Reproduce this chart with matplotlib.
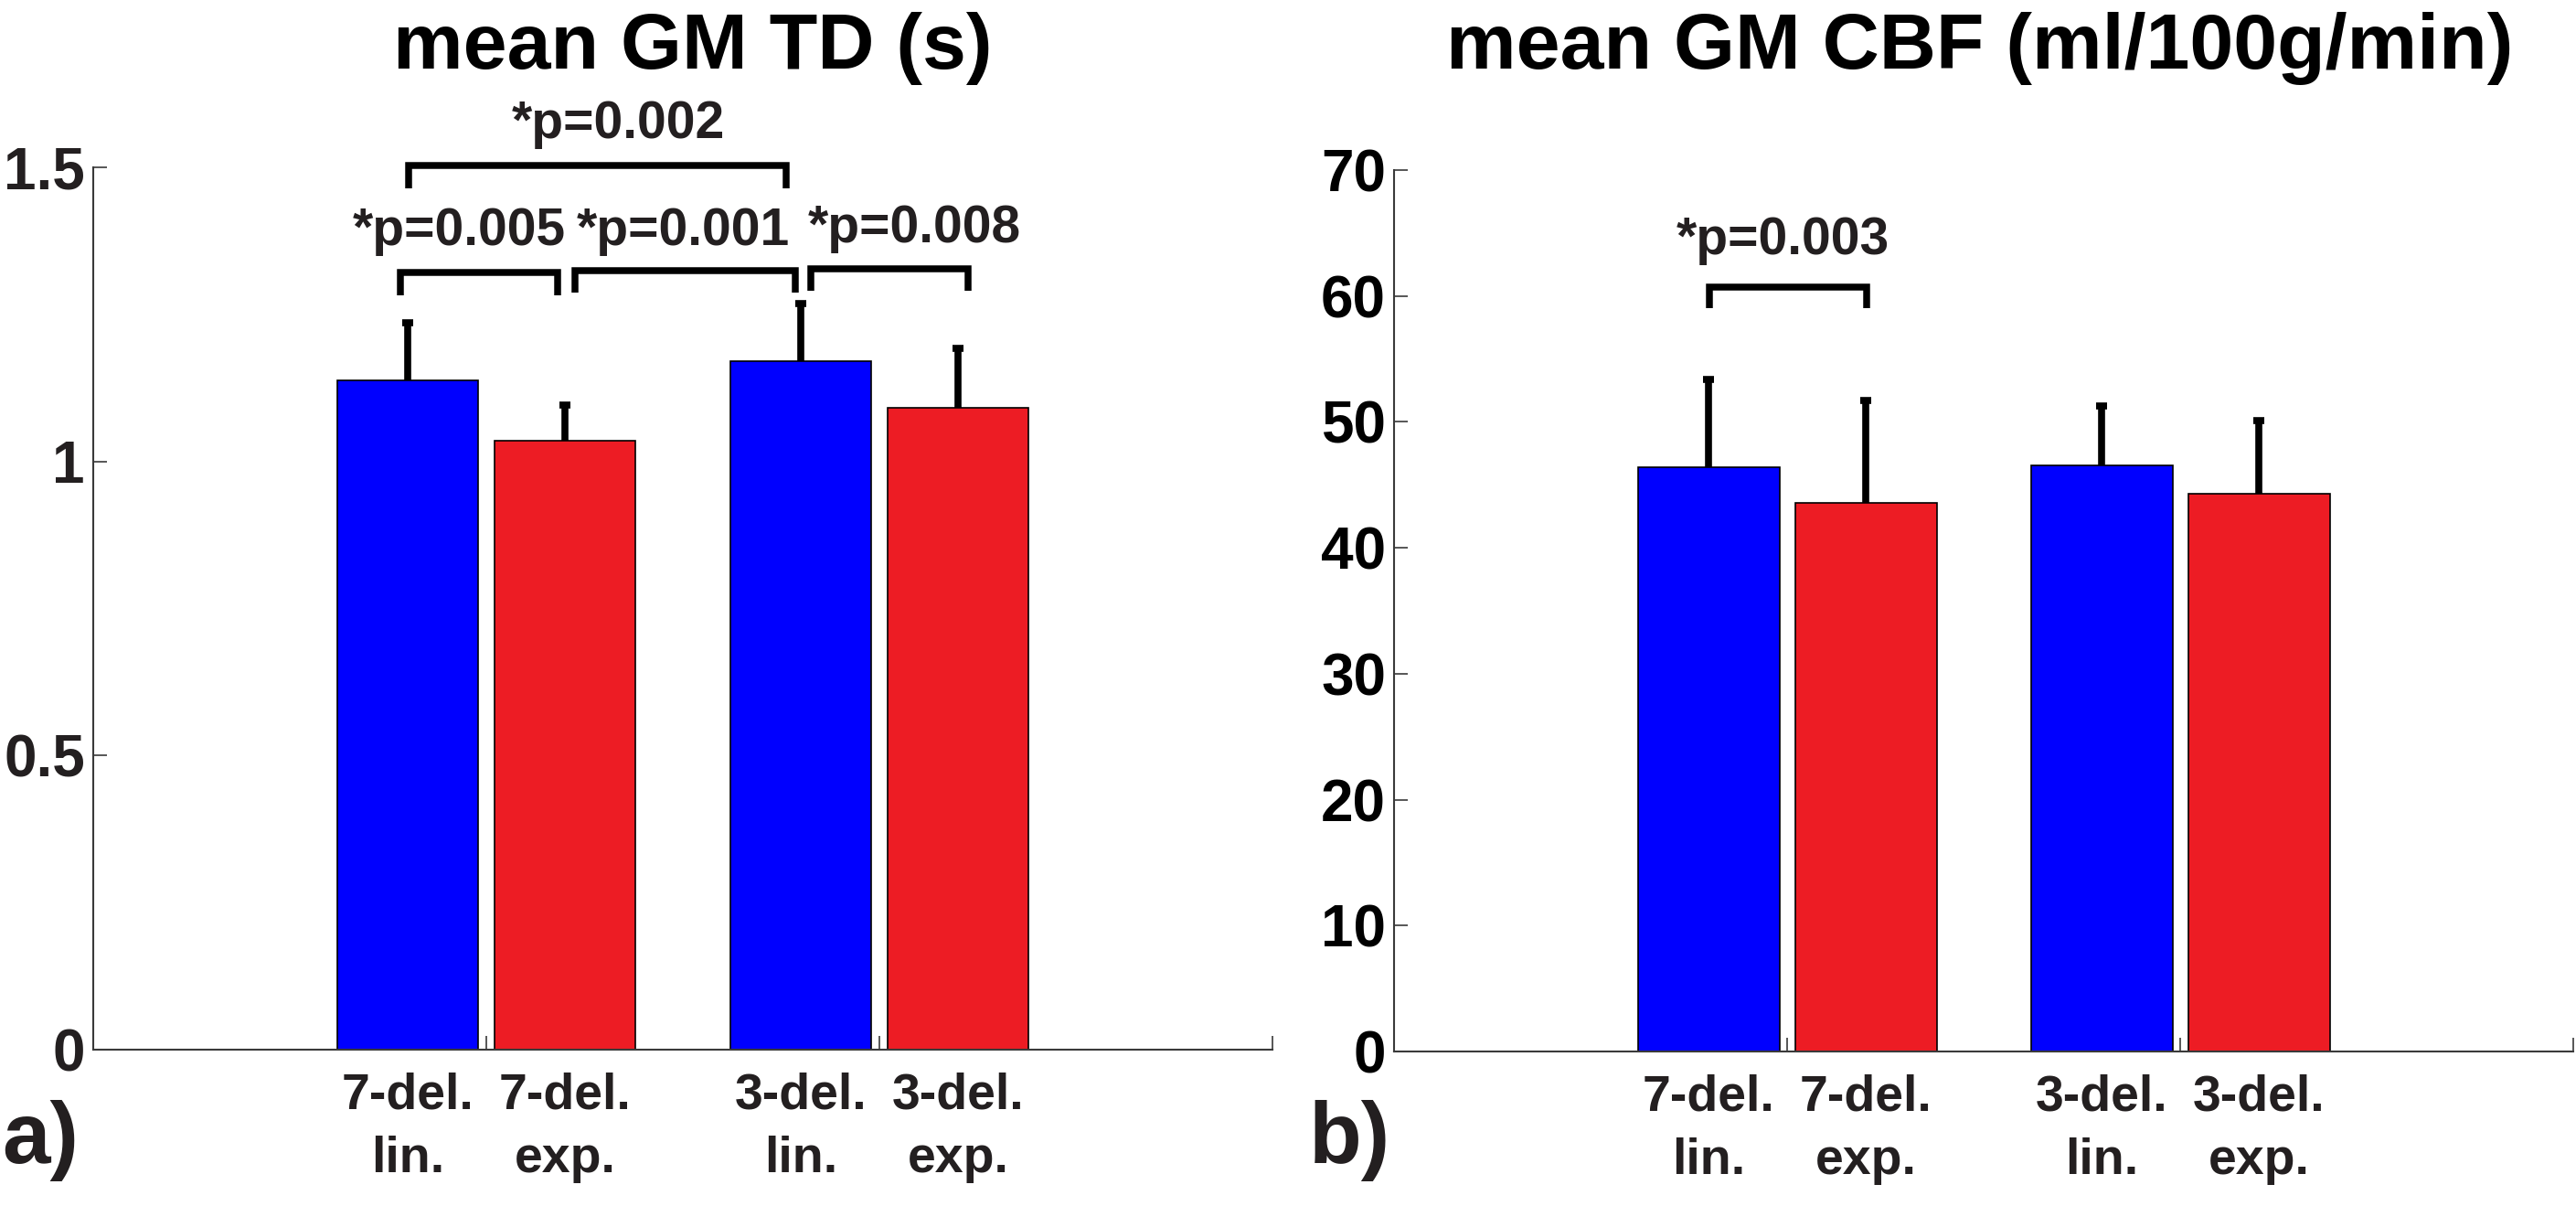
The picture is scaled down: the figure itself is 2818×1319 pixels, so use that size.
import matplotlib
matplotlib.use("Agg")
import matplotlib.pyplot as plt
import numpy as np

plt.rcParams["font.family"] = ["Liberation Sans", "DejaVu Sans"]
plt.rcParams["font.weight"] = "bold"

# ── Data ───────────────────────────────────────────────────────────────────────
label_top = ["7-del.", "7-del.", "3-del.", "3-del."]
label_bot = ["lin.", "exp.", "lin.", "exp."]
group_pos = [1, 1, 2, 2]
bar_shift = [-0.2, 0.2, -0.2, 0.2]

td_mean = [1.138, 1.035, 1.171, 1.091]
td_err  = [0.098, 0.061, 0.098, 0.102]

cbf_mean = [46.4, 43.55, 46.55, 44.3]
cbf_err  = [7.0, 8.15, 4.75, 5.8]

# significance brackets: (x from, x to), bracket top, leg bottom
td_sig_labels = ["*p=0.005", "*p=0.001", "*p=0.008", "*p=0.002"]
td_sig_x      = [(0.781, 1.181), (1.226, 1.786), (1.826, 2.226), (0.802, 1.763)]
td_sig_y      = [(1.321, 1.282), (1.324, 1.287), (1.328, 1.290), (1.504, 1.464)]
td_sig_text   = [(0.932, 1.368), (1.502, 1.368), (2.088, 1.373), (1.335, 1.550)]

cbf_sig_labels = ["*p=0.003"]
cbf_sig_x      = [(0.802, 1.202)]
cbf_sig_y      = [(60.7, 59.0)]
cbf_sig_text   = [(0.988, 63.3)]

# ── Style ──────────────────────────────────────────────────────────────────────
COLORS   = ["#0000FF", "#ED1C24", "#0000FF", "#ED1C24"]
TXT      = "#231f20"
AX_COL   = "#3a3a3a"
BAR_W    = 0.36

fig = plt.figure(figsize=(28.18, 13.19), dpi=100)
ax1 = fig.add_axes([0.0362, 0.1296, 0.4578, 0.7316])
ax2 = fig.add_axes([0.5412, 0.1281, 0.4578, 0.7309])


def draw_panel(ax, means, errs, ylim, yticks, yticklabels, tick_col,
               sig_labels, sig_x, sig_y, sig_text, title, title_x, letter, letter_x):
    xs = np.array(group_pos) + np.array(bar_shift)
    ax.bar(xs, means, width=BAR_W, color=COLORS, edgecolor="black",
           linewidth=1.2, zorder=2)
    # symmetric error bars drawn under the bars, so only the upper half shows
    ax.errorbar(xs, means, yerr=errs, fmt="none",
                ecolor="black", elinewidth=5.5, capsize=4.3, capthick=5.5,
                zorder=1)

    ax.set_xlim(0, 3)
    ax.set_ylim(*ylim)
    ax.set_xticks([0, 1, 2, 3])
    ax.set_xticklabels([])
    ax.set_yticks(yticks)
    ax.set_yticklabels(yticklabels)
    ax.tick_params(axis="both", direction="in", length=10.5, width=1.2,
                   color=AX_COL)
    ax.tick_params(axis="y", labelsize=46, pad=6.5, labelcolor=tick_col)
    for s in ["top", "right"]:
        ax.spines[s].set_visible(False)
    for s in ["left", "bottom"]:
        ax.spines[s].set_color(AX_COL)
        ax.spines[s].set_linewidth(1.5)
        ax.spines[s].set_zorder(3)

    # bar labels (two lines under each bar)
    trans = ax.get_xaxis_transform()
    h = ax.get_position().height * fig.get_figheight() * fig.dpi
    for x, t, b in zip(xs, label_top, label_bot):
        ax.text(x, -64 / h, t, transform=trans, ha="center", va="baseline",
                fontsize=40, color=TXT, fontweight="bold")
        ax.text(x, -134 / h, b, transform=trans, ha="center", va="baseline",
                fontsize=40, color=TXT, fontweight="bold")

    # significance brackets
    for lab, (x1, x2), (yt, yb), (tx, ty) in zip(sig_labels, sig_x, sig_y, sig_text):
        ax.plot([x1, x1, x2, x2], [yb, yt, yt, yb], color="black", lw=5.4,
                solid_joinstyle="miter", solid_capstyle="butt",
                clip_on=False, zorder=4)
        ax.text(tx, ty, lab, ha="center", va="baseline", fontsize=41,
                color=TXT, fontweight="bold", clip_on=False)

    fig.text(title_x, 1 - 75 / 1319, title, ha="center", va="baseline",
             fontsize=62, color="black", fontweight="bold")
    fig.text(letter_x, 1 - 1272 / 1319, letter, ha="left", va="baseline",
             fontsize=68, color=TXT, fontweight="bold")


draw_panel(ax1, td_mean, td_err, (0, 1.5), [0, 0.5, 1, 1.5],
           ["0", "0.5", "1", "1.5"], TXT,
           td_sig_labels, td_sig_x, td_sig_y, td_sig_text,
           "mean GM TD (s)", 758 / 2818, "a)", 2 / 2818)

draw_panel(ax2, cbf_mean, cbf_err, (0, 70), list(range(0, 71, 10)),
           [str(v) for v in range(0, 71, 10)], "black",
           cbf_sig_labels, cbf_sig_x, cbf_sig_y, cbf_sig_text,
           "mean GM CBF (ml/100g/min)", 2166 / 2818, "b)", 1432 / 2818)

fig.savefig("out.png", dpi=100)
